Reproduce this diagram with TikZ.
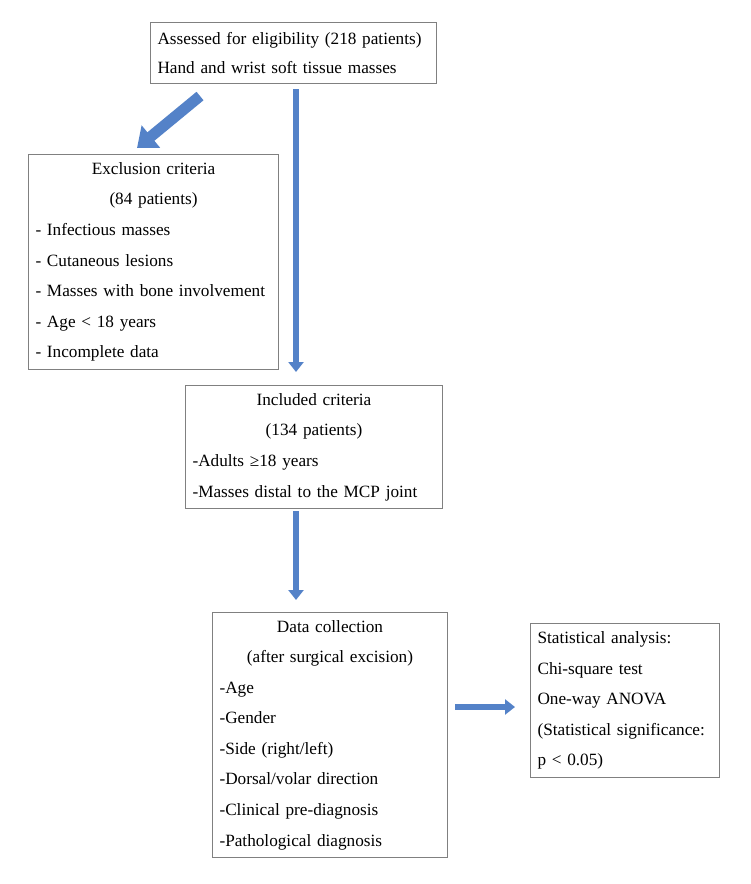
\documentclass[tikz,border=0pt]{standalone}
\usepackage{fontspec}
\setmainfont{Liberation Serif}
\usetikzlibrary{arrows.meta,positioning,calc}
\definecolor{boxgray}{RGB}{128,128,128}
\definecolor{flowblue}{RGB}{84,130,200}
\newcommand{\ctrline}[1]{\hfill#1\hfill\null}

\begin{document}
\begin{tikzpicture}[x=0.02cm, y=-0.02cm,
    box/.style={draw=boxgray, line width=0.6pt, anchor=north west, align=left,
      inner xsep=0.14cm, inner ysep=0pt, font=\fontsize{9.8}{17.4}\selectfont},
    flow/.style={flowblue, line width=0.12cm, -{Triangle[width=0.3cm, length=0.2cm]}},
    bigflow/.style={flowblue, line width=0.22cm, -{Triangle[width=0.56cm, length=0.36cm]}}
  ]
    \useasboundingbox (0,0) rectangle (750,884);
    % boxes
    \node[box, text width=5.44cm, minimum height=1.22cm, font=\fontsize{9.8}{16}\selectfont] (assess) at (150,22)
      {Assessed for eligibility (218 patients)\\Hand and wrist soft tissue masses};
    \node[box, text width=4.72cm, minimum height=4.3cm] (excl) at (28,154)
      {\ctrline{Exclusion criteria}\\\ctrline{(84 patients)}\\- Infectious masses\\- Cutaneous lesions\\- Masses with bone involvement\\- Age < 18 years\\- Incomplete data};
    \node[box, text width=4.86cm, minimum height=2.46cm] (incl) at (185,385)
      {\ctrline{Included criteria}\\\ctrline{(134 patients)}\\-Adults ≥18 years\\-Masses distal to the MCP joint};
    \node[box, text width=4.42cm, minimum height=4.9cm] (data) at (212,612)
      {\ctrline{Data collection}\\\ctrline{(after surgical excision)}\\-Age\\-Gender\\-Side (right/left)\\-Dorsal/volar direction\\-Clinical pre-diagnosis\\-Pathological diagnosis};
    \node[box, text width=3.5cm, minimum height=3.08cm] (stats) at (530,623)
      {Statistical analysis:\\Chi-square test\\One-way ANOVA\\(Statistical significance:\\p < 0.05)};
    % arrows
    \coordinate (spine) at (296,0);
    \coordinate (side) at (0,707);
    \draw[bigflow] ($(assess.south west)+(50,12)$) -- ($(excl.north west)+(109,-6)$);
    \draw[flow, shorten <=0.1cm, shorten >=0.26cm] (assess.south -| spine) -- (incl.north -| spine);
    \draw[flow, shorten <=0.04cm, shorten >=0.24cm] (incl.south -| spine) -- (data.north -| spine);
    \draw[flow, shorten <=0.14cm, shorten >=0.3cm] (data.east |- side) -- (stats.west |- side);
\end{tikzpicture}
\end{document}
